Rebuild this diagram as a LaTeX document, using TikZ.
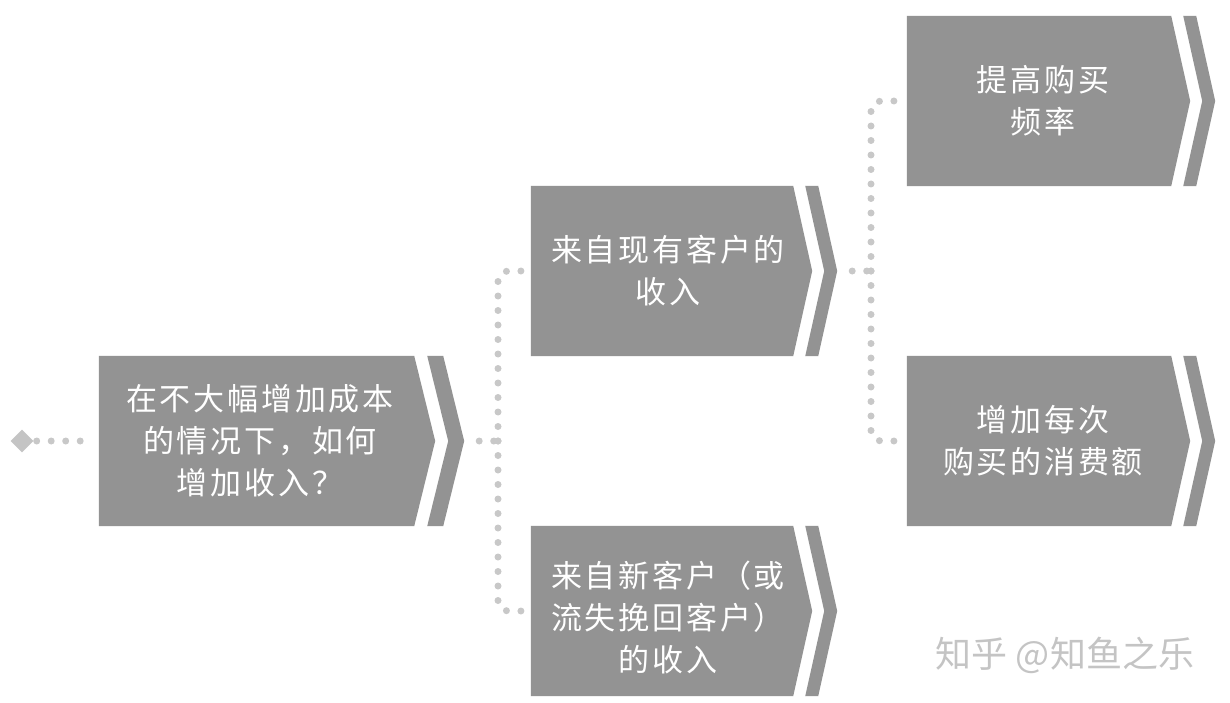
\documentclass[tikz,border=0pt]{standalone}
\usepackage{fontspec}
\usetikzlibrary{calc,shapes.geometric}
\newfontfamily\cjk{Noto Sans CJK SC}[LetterSpace=9]
\newfontfamily\cjkwm{Noto Sans CJK SC}
\definecolor{boxgray}{HTML}{939393}
\definecolor{dotgray}{HTML}{C8C8C8}
\definecolor{wmgray}{HTML}{C4C4C4}
\tikzset{
  holder/.style={rectangle, inner sep=0pt, minimum height=170pt, text=white,
    align=center, font=\cjk\fontsize{31}{42}\selectfont},
  dotline/.style={draw=dotgray, line width=7pt, line cap=round,
    dash pattern=on 0pt off 14.5pt, rounded corners=10pt},
}
% \chevbox{name}{depth}{gap}{stripe width}
\newcommand{\chevbox}[4]{%
  \fill[boxgray] (#1.north west) -- (#1.north east) -- ($(#1.east)+(#2,0)$)
     -- (#1.south east) -- (#1.south west) -- cycle;
  \fill[boxgray] ($(#1.north east)+(#3,0)$) -- ($(#1.north east)+(#3+#4,0)$)
     -- ($(#1.east)+(#2+#3+#4,0)$) -- ($(#1.south east)+(#3+#4,0)$)
     -- ($(#1.south east)+(#3,0)$) -- ($(#1.east)+(#2+#3,0)$) -- cycle;
  \coordinate (#1-tip) at ($(#1.east)+(#2+#3+#4,0)$);
}
\begin{document}
\begin{tikzpicture}[x=1pt,y=-1pt]
\useasboundingbox (0,0) rectangle (1230,703);
% body holders
\node[holder, minimum width=315pt] (root) at (256.5,441) {};
\node[holder, minimum width=262pt] (b2) at (662,271) {};
\node[holder, minimum width=264pt] (b3) at (1039,101) {};
\node[holder, minimum width=264pt] (b4) at (1039,441) {};
\node[holder, minimum width=262pt] (b5) at (662,611) {};
\chevbox{root}{21}{13}{16}
\chevbox{b2}{19}{12}{13}
\chevbox{b3}{19}{12}{13}
\chevbox{b4}{19}{12}{13}
\chevbox{b5}{19}{12}{13}
% texts
\node[holder, minimum width=315pt] (roott) at (260,441) {在不大幅增加成本\\的情况下，如何\\增加收入？};
\node[holder, minimum width=262pt] (b2t) at (668,271) {来自现有客户的\\收入};
\node[holder, minimum width=264pt] (b3t) at (1043,101) {提高购买\\频率};
\node[holder, minimum width=264pt] (b4t) at (1043,441) {增加每次\\购买的消费额};
\node[holder, minimum width=262pt] (b5t) at (668,617) {来自新客户（或\\流失挽回客户）\\的收入};
% start diamond
\node[diamond, fill=wmgray, inner sep=0pt, minimum size=23pt] (dia) at (22,441) {};
% junctions
\coordinate (j1) at (498,441);
\coordinate (j2) at (871,271);
% connectors
\draw[dotline, shorten <=3pt, shorten >=8pt] (dia.east) -- (root.west);
\draw[dotline, shorten <=15pt] (root-tip) -- (j1);
\draw[dotline, shorten >=6pt] (j1) |- (b2.west);
\draw[dotline, shorten >=6pt] (j1) |- (b5.west);
\draw[dotline, shorten <=15pt] (b2-tip) -- (j2);
\draw[dotline, shorten >=6pt] (j2) |- (b3.west);
\draw[dotline, shorten >=6pt] (j2) |- (b4.west);
% watermark
\node[text=wmgray, font=\cjkwm\fontsize{36}{38}\selectfont, inner sep=0pt] (wm) at (1065,655) {知乎 @知鱼之乐};
\end{tikzpicture}
\end{document}
